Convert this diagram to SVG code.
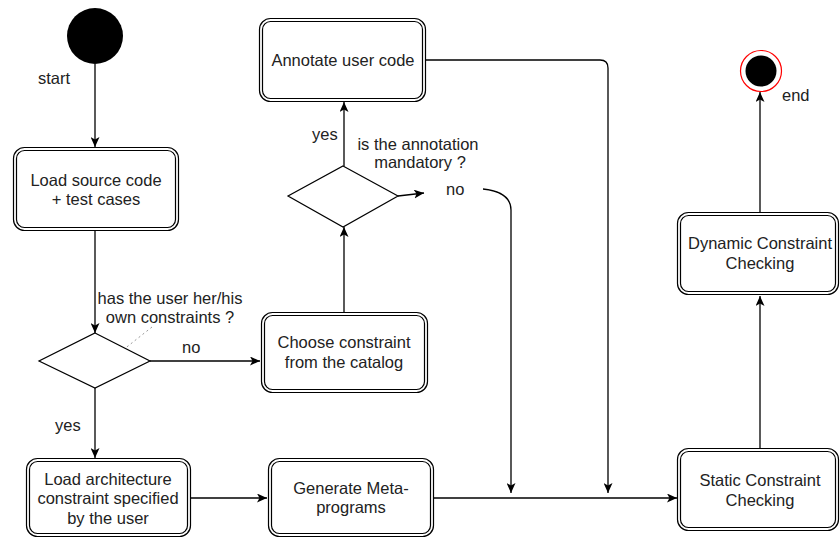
<svg xmlns="http://www.w3.org/2000/svg" width="840" height="538" viewBox="0 0 840 538">
<defs>
<marker id="arr" markerWidth="11" markerHeight="9" refX="10" refY="4.5" orient="auto" markerUnits="userSpaceOnUse">
<path d="M0,0 L10,4.5 L0,9 L2.5,4.5 Z" fill="#000"/>
</marker>
<style>
text{font-family:"Liberation Sans",Arial,sans-serif;font-size:16.5px;fill:#222;}
.c{text-anchor:middle;}
.o{fill:#fff;stroke:#000;stroke-width:1.2;}
.i{fill:none;stroke:#000;stroke-width:1.2;}
.e{fill:none;stroke:#000;stroke-width:1.3;}
.a{marker-end:url(#arr);}
.d{fill:#fff;stroke:#000;stroke-width:1.2;}
</style>
</defs>
<rect width="840" height="538" fill="#fff"/>

<g id="connectors">
<path class="e a" d="M95,64 L95,147"/>
<path class="e a" d="M95,231 L95,333"/>
<path class="e a" d="M150,361 L260,361"/>
<path class="e a" d="M95,388 L95,458"/>
<path class="e a" d="M344,312 L344,227"/>
<path class="e a" d="M344,166 L344,102"/>
<path class="e a" d="M398,196 L424,193"/>
<path class="e a" d="M483,189 Q511,192 511,210 L511,493"/>
<path class="e a" d="M426,60 L600,60 Q608,60 608,68 L608,493"/>
<path class="e a" d="M191,498 L267,498"/>
<path class="e a" d="M434,498 L677,498"/>
<path class="e a" d="M760,448 L760,296"/>
<path class="e a" d="M760,212 L760,92"/>
<path d="M123,350 L152,327" fill="none" stroke="#999" stroke-width="1" stroke-dasharray="2,3"/>
</g>

<g id="start">
<circle cx="95" cy="36" r="28" fill="#000"/>
<text x="38" y="84">start</text>
</g>

<g id="end">
<circle cx="761" cy="71" r="20.5" fill="#fff" stroke="#ff0000" stroke-width="1.2"/>
<circle cx="761" cy="71" r="15.5" fill="#000"/>
<text x="782" y="101">end</text>
</g>

<g id="load-source">
<rect class="o" x="13.5" y="147.5" width="165" height="83" rx="11"/>
<rect class="i" x="16.5" y="150.5" width="159" height="77" rx="8"/>
<text class="c" x="96" y="186">Load source code</text>
<text class="c" x="96" y="205">+ test cases</text>
</g>

<g id="decision-user">
<polygon class="d" points="95,333 150,361 95,388 39,361"/>
<text class="c" x="170" y="304">has the user her/his</text>
<text class="c" x="170" y="323">own constraints ?</text>
<text x="182" y="353">no</text>
<text x="55" y="431">yes</text>
</g>

<g id="choose">
<rect class="o" x="261.5" y="312.5" width="166" height="80" rx="11"/>
<rect class="i" x="264.5" y="315.5" width="160" height="74" rx="8"/>
<text class="c" x="344" y="348">Choose constraint</text>
<text class="c" x="344" y="368">from the catalog</text>
</g>

<g id="decision-annotation">
<polygon class="d" points="343,166 398,196 343,227 288,196"/>
<text class="c" x="418" y="150">is the annotation</text>
<text class="c" x="420" y="168">mandatory ?</text>
<text x="312" y="140">yes</text>
<text x="446" y="195">no</text>
</g>

<g id="annotate">
<rect class="o" x="259.5" y="18.5" width="166" height="83" rx="11"/>
<rect class="i" x="262.5" y="21.5" width="160" height="77" rx="8"/>
<text class="c" x="343" y="66">Annotate user code</text>
</g>

<g id="load-arch">
<rect class="o" x="26.5" y="458.5" width="164" height="78" rx="11"/>
<rect class="i" x="29.5" y="461.5" width="158" height="72" rx="8"/>
<text class="c" x="108" y="485">Load architecture</text>
<text class="c" x="108" y="504">constraint specified</text>
<text class="c" x="108" y="524">by the user</text>
</g>

<g id="generate">
<rect class="o" x="268.5" y="458.5" width="165" height="78" rx="11"/>
<rect class="i" x="271.5" y="461.5" width="159" height="72" rx="8"/>
<text class="c" x="351" y="494">Generate Meta-</text>
<text class="c" x="351" y="513">programs</text>
</g>

<g id="static">
<rect class="o" x="677.5" y="448.5" width="161" height="82" rx="11"/>
<rect class="i" x="680.5" y="451.5" width="155" height="76" rx="8"/>
<text class="c" x="760" y="486">Static Constraint</text>
<text class="c" x="760" y="506">Checking</text>
</g>

<g id="dynamic">
<rect class="o" x="677.5" y="212.5" width="161" height="82" rx="11"/>
<rect class="i" x="680.5" y="215.5" width="155" height="76" rx="8"/>
<text class="c" x="760" y="249">Dynamic Constraint</text>
<text class="c" x="760" y="269">Checking</text>
</g>
</svg>
